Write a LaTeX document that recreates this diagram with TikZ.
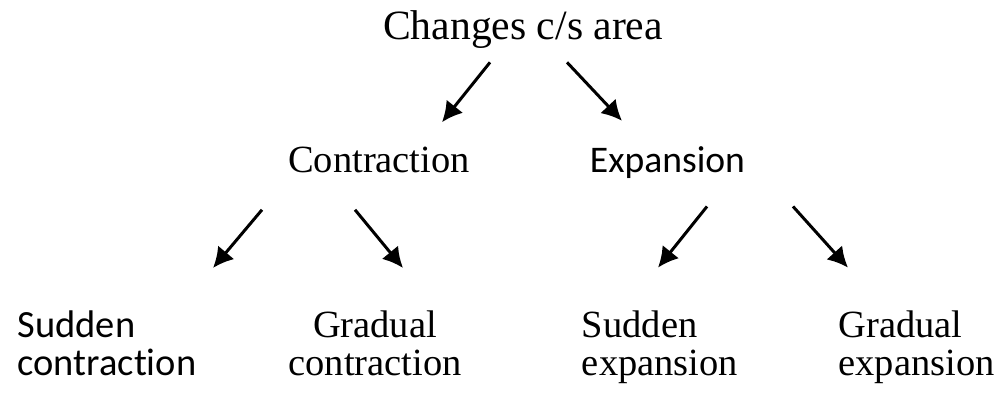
\documentclass[tikz,border=0pt]{standalone}
\usepackage{fontspec}
\setmainfont{Liberation Serif}
\newfontfamily\calibri[Ligatures=NoCommon]{Carlito}
\usepackage{tikz}
\usetikzlibrary{calc, arrows.meta}

\begin{document}
\begin{tikzpicture}[node distance=2.84cm]
		\tikzstyle{every node}=[inner sep=0pt]
		\tikzstyle{leaf}=[anchor=north, align=left, font=\fontsize{21.9}{21.6}\selectfont]
		\tikzstyle{branch}=[->, line width=1.7pt, >={Latex[length=11.5pt, width=12pt]}]

		\useasboundingbox (0,0) rectangle (20.06,-7.86);

		\node[anchor=base, font=\fontsize{23.7}{28}\selectfont] (root) at (10.46,-0.8) {Changes c/s area};

		\node[below of=root, anchor=base, xshift=-2.88cm, font=\fontsize{21.9}{26}\selectfont] (contr) {Contraction};
		\node[below of=root, anchor=base, xshift=2.89cm, font=\calibri\fontsize{21.4}{26}\selectfont] (expan) {Expansion};

		\node[below of=contr, leaf, xshift=-5.44cm, yshift=-0.18cm, font=\calibri\fontsize{21.9}{21.6}\selectfont] (suddenC) {Sudden\\contraction};
		\node[below of=contr, leaf, align=center, xshift=-0.08cm, yshift=-0.18cm] (gradualC) {Gradual\\contraction};
		\node[below of=expan, leaf, xshift=-0.15cm, yshift=-0.13cm] (suddenE) {Sudden\\expansion};
		\node[below of=expan, leaf, xshift=4.98cm, yshift=-0.13cm] (gradualE) {Gradual\\expansion};

		\draw[branch] ($(root.south)+(-0.66,-0.26)$) -- ($(contr.north)+(1.26,0.48)$);
		\draw[branch] ($(root.south)+(0.88,-0.26)$) -- ($(expan.north)+(-0.91,0.50)$);
		\draw[branch] ($(contr.south)+(-2.34,-0.74)$) -- ($(suddenC.north)+(2.12,0.85)$);
		\draw[branch] ($(contr.south)+(-0.48,-0.74)$) -- ($(gradualC.north)+(0.56,0.85)$);
		\draw[branch] ($(expan.south)+(0.79,-0.56)$) -- ($(suddenE.north)+(-0.04,0.86)$);
		\draw[branch] ($(expan.south)+(2.51,-0.56)$) -- ($(gradualE.north)+(-1.37,0.86)$);

	\end{tikzpicture}
\end{document}
